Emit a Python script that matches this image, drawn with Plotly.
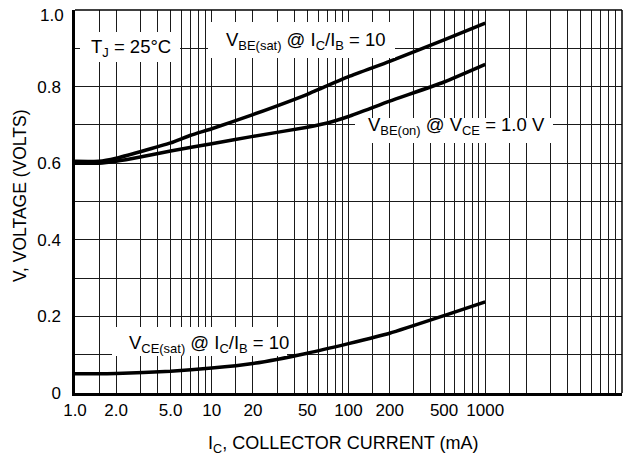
import plotly.graph_objects as go

# ---- data ----
ic_vbe_sat = [1, 1.5, 2, 3, 5, 7, 10, 20, 50, 100, 200, 500, 1000]
v_vbe_sat = [0.605, 0.605, 0.613, 0.630, 0.653, 0.673, 0.69, 0.727, 0.78, 0.826, 0.866, 0.922, 0.966]

ic_vbe_on = [1, 1.5, 2, 3, 5, 10, 20, 50, 70, 100, 200, 500, 1000]
v_vbe_on = [0.600, 0.600, 0.605, 0.616, 0.632, 0.651, 0.670, 0.694, 0.705, 0.722, 0.762, 0.812, 0.858]

ic_vce_sat = [1, 2, 5, 10, 20, 50, 100, 200, 500, 1000]
v_vce_sat = [0.050, 0.051, 0.057, 0.065, 0.077, 0.104, 0.129, 0.156, 0.202, 0.238]

x_tick_vals = [1, 2, 5, 10, 20, 50, 100, 200, 500, 1000]
x_tick_text = ["1.0", "2.0", "5.0", "10", "20", "50", "100", "200", "500", "1000"]
x_grid_mult = [1, 1.5, 2, 3, 4, 5, 6, 7, 8, 9]
x_grid_decades = [1, 10, 100, 1000]
x_grid_vals = [m * d for d in x_grid_decades for m in x_grid_mult] + [10000]

y_tick_vals = [0, 0.2, 0.4, 0.6, 0.8, 1.0]
y_tick_text = ["0", "0.2", "0.4", "0.6", "0.8", "1.0"]
y_grid_vals = [0.1, 0.3, 0.5, 0.7, 0.9, 1.0]

FONT = "Liberation Sans, Arial, sans-serif"
LBL = 18.5

fig = go.Figure()
for xs, ys in [(ic_vbe_sat, v_vbe_sat), (ic_vbe_on, v_vbe_on), (ic_vce_sat, v_vce_sat)]:
    fig.add_trace(go.Scatter(x=xs, y=ys, mode="lines",
                             line=dict(color="black", width=3.5, shape="spline", smoothing=0.5),
                             showlegend=False, hoverinfo="skip"))

# plot area in page pixels: x 75..622, y 10..393
def px(x):
    return (x - 75) / 547.0

def py(y):
    return (393 - y) / 383.0

# white label backgrounds (kept clear of the curves)
boxes = [(80, 32, 180, 62), (208, 22, 395, 58), (355, 118, 553, 143), (112, 327, 287, 356)]
for x0, y0, x1, y1 in boxes:
    fig.add_shape(type="rect", xref="paper", yref="paper",
                  x0=px(x0), x1=px(x1), y0=py(y1), y1=py(y0),
                  fillcolor="white", line=dict(width=0), layer="above")

# thin top and right frame lines
fig.add_shape(type="line", xref="paper", yref="paper", x0=0, x1=1, y0=1, y1=1,
              line=dict(color="black", width=1.5), layer="above")
fig.add_shape(type="line", xref="paper", yref="paper", x0=1, x1=1, y0=0, y1=1,
              line=dict(color="black", width=1.5), layer="above")

labels = [
    (131, 48, "T<sub>J</sub> = 25°C"),
    (306, 41, "V<sub>BE(sat)</sub> @ I<sub>C</sub>/I<sub>B</sub> = 10"),
    (456, 126, "V<sub>BE(on)</sub> @ V<sub>CE</sub> = 1.0 V"),
    (209, 344, "V<sub>CE(sat)</sub> @ I<sub>C</sub>/I<sub>B</sub> = 10"),
]
for x, y, t in labels:
    fig.add_annotation(x=px(x), y=py(y), xref="paper", yref="paper", text=t,
                       showarrow=False, xanchor="center", yanchor="middle",
                       font=dict(family=FONT, size=LBL, color="black"))

# top y tick label sits just below the frame's top edge
fig.add_annotation(x=px(66), y=py(16), xref="paper", yref="paper", text=y_tick_text[-1],
                   showarrow=False, xanchor="right", yanchor="middle",
                   font=dict(family=FONT, size=17, color="black"))

fig.add_annotation(x=px(343), y=py(444), xref="paper", yref="paper",
                   text="I<sub>C</sub>, COLLECTOR CURRENT (mA)", showarrow=False,
                   xanchor="center", yanchor="middle",
                   font=dict(family=FONT, size=18, color="black"))
fig.add_annotation(x=px(20), y=py(196), xref="paper", yref="paper",
                   text="V, VOLTAGE (VOLTS)", showarrow=False, textangle=-90,
                   xanchor="center", yanchor="middle",
                   font=dict(family=FONT, size=17.5, color="black"))

fig.update_layout(
    width=623, height=460,
    margin=dict(l=75, r=1, t=10, b=67),
    paper_bgcolor="white", plot_bgcolor="white",
    font=dict(family=FONT, size=17, color="black"),
    xaxis=dict(type="log", range=[0, 4], tickmode="array", tickvals=x_tick_vals,
               ticktext=x_tick_text, showgrid=True, gridcolor="#1a1a1a", gridwidth=1,
               minor=dict(tickmode="array", tickvals=x_grid_vals, showgrid=True,
                          gridcolor="#1a1a1a", gridwidth=1, ticks=""),
               showline=True, linecolor="black", linewidth=2.5, ticks="",
               zeroline=False, ticklabelstandoff=0, fixedrange=True, automargin=False),
    yaxis=dict(range=[0, 1], tickmode="array", tickvals=y_tick_vals[:-1],
               ticktext=y_tick_text[:-1],
               showgrid=True, gridcolor="#1a1a1a", gridwidth=1,
               minor=dict(tickmode="array", tickvals=y_grid_vals, showgrid=True,
                          gridcolor="#1a1a1a", gridwidth=1, ticks=""),
               showline=True, linecolor="black", linewidth=2.5, ticks="",
               zeroline=False, ticklabelstandoff=8, fixedrange=True, automargin=False),
)

# remove the page's default body margin so the 623x460 figure fills the window exactly
fig.write_html("out.html", config={"displayModeBar": False},
               post_script="document.body.style.margin='0';"
                           "document.documentElement.style.overflow='hidden';")
